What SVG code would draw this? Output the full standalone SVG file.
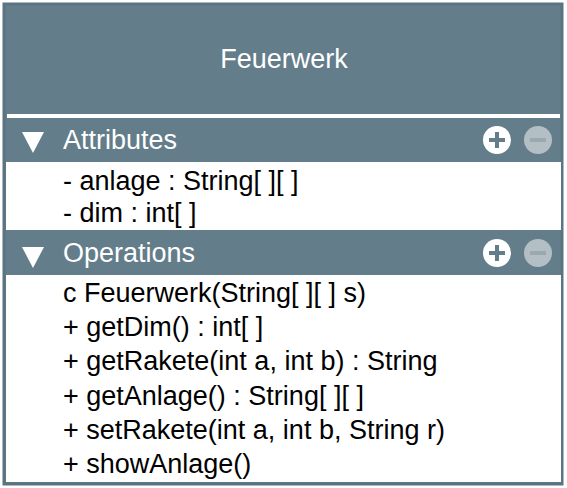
<svg xmlns="http://www.w3.org/2000/svg" width="567" height="488" viewBox="0 0 567 488">
<style>
text{font-family:"Liberation Sans",Arial,sans-serif;font-size:27px;}
.hd{fill:#ffffff;}
.it{fill:#000000;}
.ttl{fill:#ffffff;}
.plus{fill:#ffffff;}
.minus{fill:#b4bfc5;}
.bar{stroke:#637d8a;stroke-width:4;stroke-linecap:butt;}
</style>
<defs>
<g id="btns">
<circle cx="0" cy="0" r="14" class="plus"/>
<path d="M-8,0H8M0,-8V8" class="bar"/>
<circle cx="41" cy="0" r="14" class="minus"/>
<path d="M33,0H49" class="bar" style="stroke:#9aa9b1"/>
</g>
</defs>
<g id="Feuerwerk">
<rect x="4" y="4" width="558" height="480" fill="#637d8a" stroke="#5a7482" stroke-width="3"/>
<text x="284" y="68" text-anchor="middle" class="ttl">Feuerwerk</text>
<rect x="7" y="114" width="553" height="4" fill="#ffffff"/>
<g id="attributes">
<polygon points="22,132 44,132 33,153" fill="#ffffff"/>
<text x="63" y="149" class="hd">Attributes</text>
<use href="#btns" x="497" y="140"/>
<rect x="6" y="162" width="555" height="68" fill="#ffffff"/>
<text x="63" y="190" class="it">- anlage : String[ ][ ]</text>
<text x="63" y="222" class="it">- dim : int[ ]</text>
</g>
<g id="operations">
<polygon points="22,247 44,247 33,268" fill="#ffffff"/>
<text x="63" y="262" class="hd">Operations</text>
<use href="#btns" x="497" y="253"/>
<rect x="6" y="275" width="555" height="207" fill="#ffffff"/>
<text x="63" y="302" class="it">c Feuerwerk(String[ ][ ] s)</text>
<text x="63" y="336" class="it">+ getDim() : int[ ]</text>
<text x="63" y="370" class="it">+ getRakete(int a, int b) : String</text>
<text x="63" y="405" class="it">+ getAnlage() : String[ ][ ]</text>
<text x="63" y="439" class="it">+ setRakete(int a, int b, String r)</text>
<text x="63" y="473" class="it">+ showAnlage()</text>
</g>
</g>
<g id="connectors"/>
</svg>
